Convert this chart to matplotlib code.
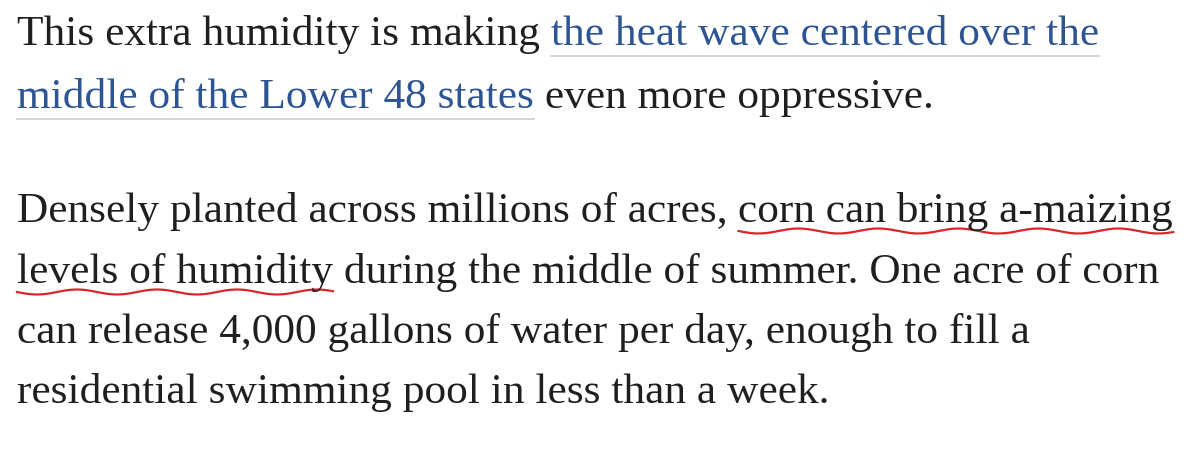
import matplotlib
matplotlib.use("Agg")
import matplotlib.pyplot as plt
import numpy as np

# paragraph lines as (text, style) segments; style: n=normal, l=link, r=red underline
lines = [
    [("This extra humidity is making ", "n"), ("the heat wave centered over the", "l")],
    [("middle of the Lower 48 states", "l"), (" even more oppressive.", "n")],
    [("Densely planted across millions of acres, ", "n"), ("corn can bring a-maizing", "r")],
    [("levels of humidity", "r"), (" during the middle of summer. One acre of corn", "n")],
    [("can release 4,000 gallons of water per day, enough to fill a", "n")],
    [("residential swimming pool in less than a week.", "n")],
]
baselines_px = [45, 108, 222, 283, 343, 403]

W, H = 1200, 455
fig = plt.figure(figsize=(W / 100, H / 100), dpi=100)
fig.patch.set_facecolor("white")
ax = fig.add_axes([0, 0, 1, 1])
ax.set_xlim(0, W)
ax.set_ylim(H, 0)
ax.axis("off")

FONT = "Liberation Serif"
TXT = "#1f1f1f"
LINK = "#2d5493"
r = fig.canvas.get_renderer()

def width(s, fs):
    t = ax.text(0, 0, s, fontsize=fs, family=FONT)
    w = t.get_window_extent(r).width
    t.remove()
    return w

ref = "".join(s for s, _ in lines[2])
fs = 26
fs = fs * 1155 / width(ref, fs)

x0 = 17
for segs, yb in zip(lines, baselines_px):
    x = x0
    for s, st in segs:
        w = width(s, fs)
        ax.text(x, yb, s, fontsize=fs, family=FONT, color=LINK if st == "l" else TXT,
                va="baseline", ha="left")
        if st == "l":
            ax.plot([x, x + w], [yb + 11, yb + 11], color="#c8ccd2", lw=1.2)
        if st == "r":
            s0 = len(s) - len(s.lstrip())
            xs0 = x + width(s[:s0], fs) if s0 else x
            xx = np.linspace(xs0, x + w, 200)
            yy = yb + 9 + 2.5 * np.sin((xx - xs0) / 40 * np.pi)
            ax.plot(xx, yy, color="#d8262b", lw=1.6)
        x += w

fig.savefig("out.png", dpi=100, facecolor="white")
